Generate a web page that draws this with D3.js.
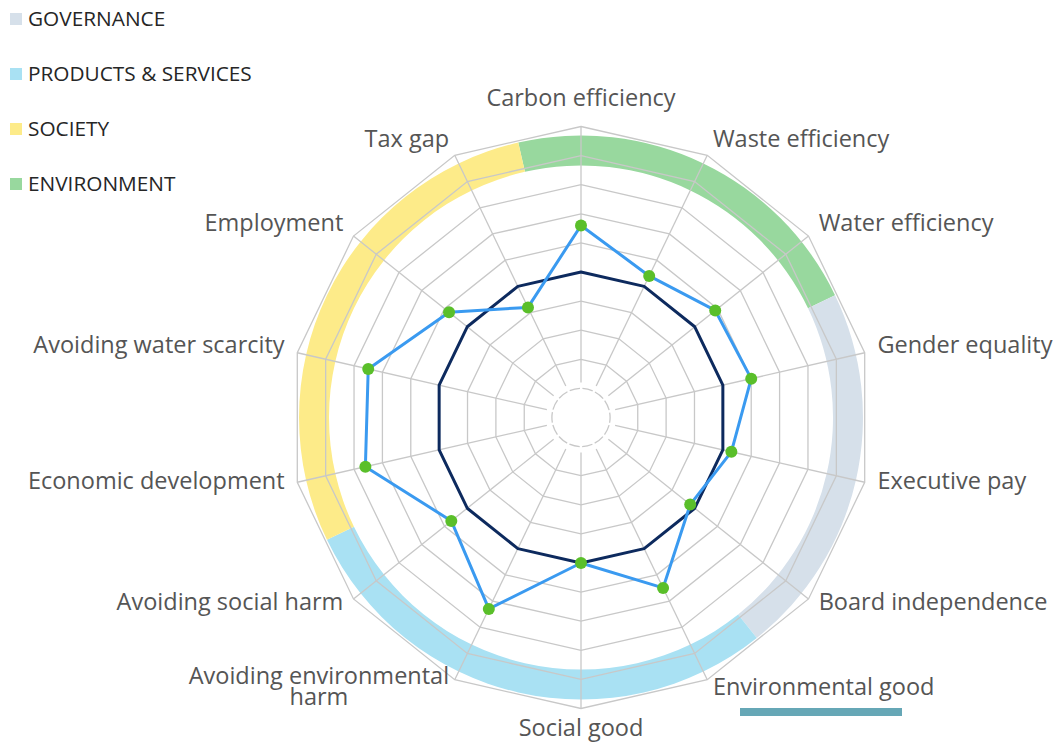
<!DOCTYPE html>
<html>
<head>
<meta charset="utf-8">
<script src="https://cdn.jsdelivr.net/npm/d3@7"></script>
<style>
  body { margin: 0; background: #fff; }
  svg text { font-family: "Open Sans", sans-serif; }
</style>
</head>
<body>
<svg id="chart" width="1054" height="746"></svg>
<script>
// axes, clockwise from the top
const axes = [
  "Carbon efficiency", "Waste efficiency", "Water efficiency",
  "Gender equality", "Executive pay", "Board independence",
  "Environmental good", "Social good", "Avoiding environmental harm", "Avoiding social harm",
  "Economic development", "Avoiding water scarcity", "Employment", "Tax gap"
];
const axisPillar = [
  "ENVIRONMENT", "ENVIRONMENT", "ENVIRONMENT",
  "GOVERNANCE", "GOVERNANCE", "GOVERNANCE",
  "PRODUCTS & SERVICES", "PRODUCTS & SERVICES", "PRODUCTS & SERVICES", "PRODUCTS & SERVICES",
  "SOCIETY", "SOCIETY", "SOCIETY", "SOCIETY"
];
const pillars = ["GOVERNANCE", "PRODUCTS & SERVICES", "SOCIETY", "ENVIRONMENT"];
const pillarColours = ["#d6e0ea", "#a9e1f3", "#fdeb89", "#98d89e"];

const companyScores = [6.6, 5.4, 5.9, 6.0, 5.3, 4.8, 6.5, 5.0, 7.3, 5.7, 7.6, 7.5, 5.8, 4.2];
const benchmarkScores = [5, 5, 5, 5, 5, 5, 5, 5, 5, 5, 5, 5, 5, 5];
const rings = d3.range(1, 11);

const width = 1054, height = 746;
const cx = 581, cy = 417.5, R = 291;
const labelSize = 23.5, capH = labelSize * 0.714;
const legendSize = 20.8;

const svg = d3.select("#chart");
const colour = d3.scaleOrdinal().domain(pillars).range(pillarColours);
const angle = d3.scaleLinear().domain([0, axes.length]).range([0, 2 * Math.PI]);
const r = d3.scaleLinear().domain([0, 10]).range([0, R]);

const chart = svg.append("g").attr("transform", `translate(${cx},${cy})`);

// pillar bands round the outside
const bands = d3.groups(axes.map((a, i) => ({i, p: axisPillar[i]})), d => d.p)
  .map(([p, list]) => ({p, start: list[0].i - 0.5, end: list[list.length - 1].i + 0.5}));
const bandArc = d3.arc()
  .innerRadius(r(8.66))
  .outerRadius(r(9.69))
  .startAngle(d => angle(d.start))
  .endAngle(d => angle(d.end));
chart.append("g").selectAll("path")
  .data(bands)
  .join("path")
  .attr("d", bandArc)
  .attr("fill", d => colour(d.p));

// grid
const grid = chart.append("g").attr("fill", "none").attr("stroke", "#c8c8c8").attr("stroke-width", 1.3);
const ringLine = d3.lineRadial().curve(d3.curveLinearClosed);
grid.selectAll("path.ring")
  .data(rings.filter(k => k > 1))
  .join("path")
  .attr("class", "ring")
  .attr("d", k => ringLine(axes.map((a, i) => [angle(i), r(k)])));
const inner = r(1), seg = 2 * Math.PI * inner / axes.length, gap = 2.5;
grid.append("circle")
  .attr("r", inner)
  .attr("stroke-dasharray", `${seg - gap} ${gap}`)
  .attr("stroke-dashoffset", (seg - gap) / 2);
grid.selectAll("line")
  .data(axes)
  .join("line")
  .attr("x1", (d, i) => 35 * Math.sin(angle(i)))
  .attr("y1", (d, i) => -35 * Math.cos(angle(i)))
  .attr("x2", (d, i) => R * Math.sin(angle(i)))
  .attr("y2", (d, i) => -R * Math.cos(angle(i)));

// series
const seriesLine = d3.lineRadial()
  .angle((d, i) => angle(i))
  .radius(d => r(d))
  .curve(d3.curveLinearClosed);
chart.append("path")
  .attr("d", seriesLine(benchmarkScores))
  .attr("fill", "none")
  .attr("stroke", "#0d2a5e")
  .attr("stroke-width", 3)
  .attr("stroke-linejoin", "round");
chart.append("path")
  .attr("d", seriesLine(companyScores))
  .attr("fill", "none")
  .attr("stroke", "#3a9af0")
  .attr("stroke-width", 3)
  .attr("stroke-linejoin", "round");
chart.append("g").selectAll("circle")
  .data(companyScores)
  .join("circle")
  .attr("cx", (d, i) => r(d) * Math.sin(angle(i)))
  .attr("cy", (d, i) => -r(d) * Math.cos(angle(i)))
  .attr("r", 6)
  .attr("fill", "#5abf2a");

// axis labels, long ones wrapped onto two lines inside one text
const labels = chart.append("g")
  .attr("font-size", labelSize)
  .attr("fill", "#555");
const measure = labels.append("text");
const textWidth = s => measure.text(s).node().getComputedTextLength();
const wrap = (s, maxW) => {
  const lines = [];
  let line = "";
  s.split(" ").forEach(w => {
    const t = line ? line + " " + w : w;
    if (line && textWidth(t) > maxW) { lines.push(line); line = w; }
    else line = t;
  });
  lines.push(line);
  return lines;
};
axes.forEach((name, i) => {
  const a = angle(i), s = Math.sin(a), c = Math.cos(a);
  const mid = Math.abs(s) < 0.1;
  const lr = R + 13 + (mid ? 11 : 0);
  const x = lr * s, yc = -lr * c - 5;
  const lines = wrap(name, 275);
  const blockW = d3.max(lines, textWidth);
  const lx = mid ? x : s > 0 ? x + blockW / 2 : x - blockW / 2;
  labels.append("text")
    .attr("text-anchor", "middle")
    .selectAll("tspan")
    .data(lines)
    .join("tspan")
    .attr("x", lx)
    .attr("y", (d, j) => yc + (j - (lines.length - 1) / 2) * 21 + capH / 2)
    .text(d => d);
});
measure.remove();

// legend
const legend = svg.append("g")
  .attr("font-size", legendSize)
  .attr("fill", "#262626");
const item = legend.selectAll("g")
  .data(pillars)
  .join("g")
  .attr("transform", (d, i) => `translate(0,${19 + i * 55})`);
item.append("rect")
  .attr("x", 10).attr("y", -6)
  .attr("width", 12).attr("height", 12)
  .attr("fill", d => colour(d));
item.append("text")
  .attr("x", 28)
  .attr("y", legendSize * 0.714 / 2)
  .text(d => d);

// selection bar under the last label
svg.append("rect")
  .attr("x", 740).attr("y", 708)
  .attr("width", 162).attr("height", 8)
  .attr("fill", "#66a7b6");
</script>
</body>
</html>
